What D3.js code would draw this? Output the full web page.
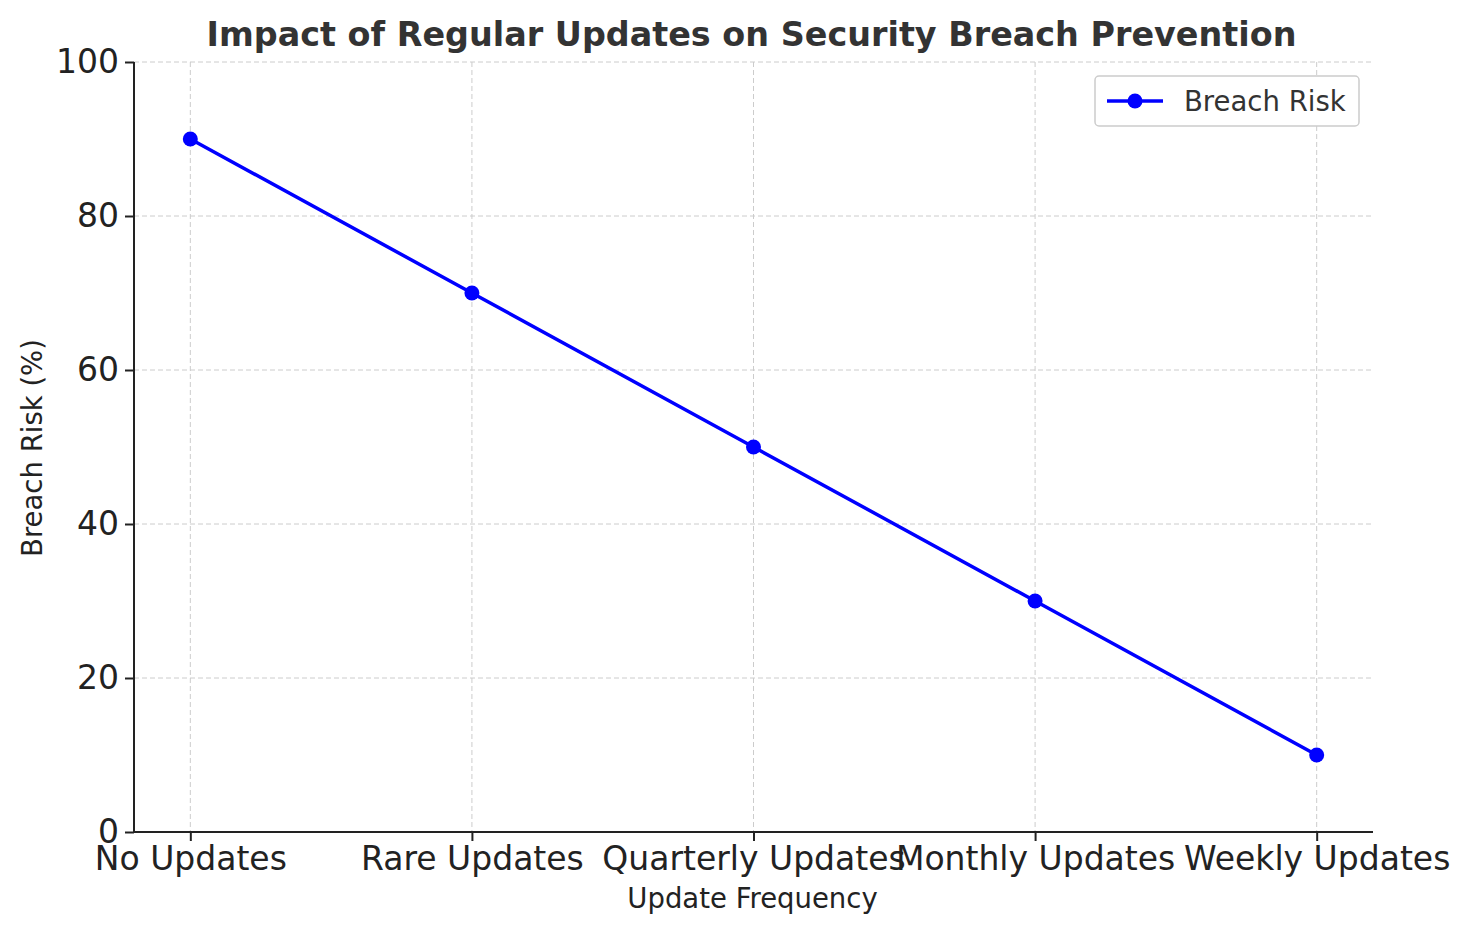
<!DOCTYPE html>
<html><head><meta charset="utf-8">
<script src="https://cdn.jsdelivr.net/npm/d3@7"></script>
<style>body{margin:0;background:#fff}text{font-family:"DejaVu Sans",sans-serif}</style>
</head><body>
<script>
// data
var categories = ["No Updates", "Rare Updates", "Quarterly Updates", "Monthly Updates", "Weekly Updates"];
var breachRisk = [90, 70, 50, 30, 10];
var yTicks = [0, 20, 40, 60, 80, 100];

var W = 1470, H = 934;
var m = {left: 134, right: 1373, top: 62, bottom: 832};
var svg = d3.select("body").append("svg").attr("width", W).attr("height", H);

var x = d3.scaleLinear().domain([-0.2, categories.length - 0.8]).range([m.left, m.right]);
var y = d3.scaleLinear().domain([0, 100]).range([m.bottom, m.top]);

// grid
svg.append("g").selectAll("line").data(yTicks).join("line")
    .attr("x1", m.left).attr("x2", m.right).attr("y1", d => y(d)).attr("y2", d => y(d))
    .attr("stroke", "#ccc").attr("stroke-dasharray", "5,3");
svg.append("g").selectAll("line").data(categories).join("line")
    .attr("x1", (d,i) => x(i)).attr("x2", (d,i) => x(i)).attr("y1", m.top).attr("y2", m.bottom)
    .attr("stroke", "#ccc").attr("stroke-dasharray", "5,3");

// axes
var xAxis = svg.append("g").attr("transform", "translate(0," + m.bottom + ")")
    .call(d3.axisBottom(x).tickValues(d3.range(categories.length)).tickFormat(i => categories[i]).tickSize(9).tickPadding(6));
var yAxis = svg.append("g").attr("transform", "translate(" + m.left + ",0)")
    .call(d3.axisLeft(y).tickValues(yTicks).tickSize(9).tickPadding(6));
[xAxis, yAxis].forEach(function(a) {
    a.selectAll("path,line").attr("stroke", "#222").attr("stroke-width", 2);
    a.selectAll("text").attr("font-size", 33).attr("fill", "#222").style("font-family", "DejaVu Sans");
});
xAxis.select(".domain").attr("d", "M" + m.left + ",0H" + m.right);
yAxis.select(".domain").attr("d", "M0," + m.bottom + "V" + m.top);

// line + points
var line = d3.line().x((d,i) => x(i)).y(d => y(d));
svg.append("path").datum(breachRisk).attr("d", line)
    .attr("fill", "none").attr("stroke", "#0000ff").attr("stroke-width", 3.5);
svg.append("g").selectAll("circle").data(breachRisk).join("circle")
    .attr("cx", (d,i) => x(i)).attr("cy", d => y(d)).attr("r", 7.5).attr("fill", "#0000ff");

// text
svg.append("text").attr("x", (m.left + m.right) / 2 - 2).attr("y", 46).attr("text-anchor", "middle")
    .attr("font-size", 33.4).attr("font-weight", "bold").attr("fill", "#333")
    .text("Impact of Regular Updates on Security Breach Prevention");
svg.append("text").attr("x", (m.left + m.right) / 2 - 1).attr("y", 908).attr("text-anchor", "middle")
    .attr("font-size", 27.5).attr("fill", "#222").text("Update Frequency");
svg.append("text").attr("transform", "translate(42," + ((m.top + m.bottom) / 2 + 1) + ") rotate(-90)")
    .attr("text-anchor", "middle").attr("font-size", 27.5).attr("fill", "#222").text("Breach Risk (%)");

// legend
var lg = svg.append("g").attr("transform", "translate(1095,76)");
lg.append("rect").attr("width", 264).attr("height", 50).attr("rx", 4)
    .attr("fill", "#fff").attr("stroke", "#ccc").attr("stroke-width", 1.5);
lg.append("line").attr("x1", 12).attr("x2", 68).attr("y1", 25).attr("y2", 25).attr("stroke", "#0000ff").attr("stroke-width", 3.5);
lg.append("circle").attr("cx", 40).attr("cy", 25).attr("r", 7.5).attr("fill", "#0000ff");
lg.append("text").attr("x", 89).attr("y", 35).attr("font-size", 27.5).attr("fill", "#333").text("Breach Risk");
</script>
</body></html>
